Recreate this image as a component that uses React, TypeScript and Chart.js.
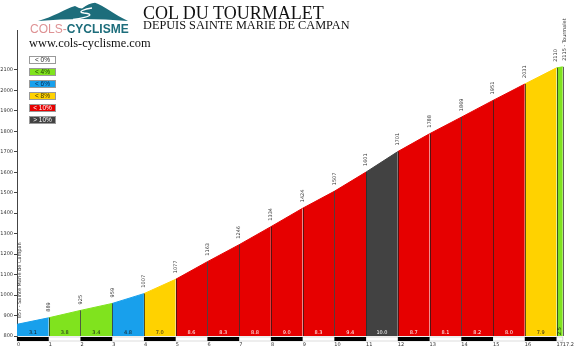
import React, { useEffect, useRef } from "react";
import { Chart, registerables } from "chart.js";
Chart.register(...registerables);

const kmPoints = [0, 1, 2, 3, 4, 5, 6, 7, 8, 9, 10, 11, 12, 13, 14, 15, 16, 17, 17.2];
const altitudes = [857, 889, 925, 959, 1007, 1077, 1163, 1246, 1334, 1424, 1507, 1601, 1701, 1788, 1869, 1951, 2031, 2110, 2115];
const altitudeLabels = ["857 - Sainte Marie de Campan", "889", "925", "959", "1007", "1077", "1163", "1246", "1334", "1424", "1507", "1601", "1701", "1788", "1869", "1951", "2031", "2110", "2115 - Tourmalet"];
const gradients = ["3.1", "3.8", "3.4", "4.8", "7.0", "8.6", "8.3", "8.8", "9.0", "8.3", "9.4", "10.0", "8.7", "8.1", "8.2", "8.0", "7.9", "2.5"];
const segmentClasses = ["< 6%", "< 4%", "< 4%", "< 6%", "< 8%", "< 10%", "< 10%", "< 10%", "< 10%", "< 10%", "< 10%", "> 10%", "< 10%", "< 10%", "< 10%", "< 10%", "< 8%", "< 4%"];
const legendLabels = ["< 0%", "< 4%", "< 6%", "< 8%", "< 10%", "> 10%"];
const legendColors = ["#ffffff", "#80e31e", "#18a0ec", "#ffd200", "#e60000", "#424242"];
const legendTextColors = ["#222", "#1a3a00", "#0a2a50", "#3a3000", "#ffffff", "#ffffff"];
const yTicks = [800, 900, 1000, 1100, 1200, 1300, 1400, 1500, 1600, 1700, 1800, 1900, 2000, 2100];
const xTicks = kmPoints;

const colorOf = (cls: string) => legendColors[legendLabels.indexOf(cls)];
const textColorOf = (cls: string) => (cls === "< 10%" || cls === "> 10%" ? "#ffffff" : "#1a1a1a");

const decorPlugin = {
  id: "profileDecor",
  afterDatasetsDraw(chart: any) {
    const { ctx, scales, chartArea } = chart;
    const x = scales.x;
    const y = scales.y;
    const base = y.getPixelForValue(800);
    ctx.save();
    ctx.strokeStyle = "#1a1a1a";
    ctx.lineWidth = 0.7;
    for (let i = 1; i < kmPoints.length; i++) {
      const px = Math.round(x.getPixelForValue(kmPoints[i])) + 0.5;
      ctx.beginPath();
      ctx.moveTo(px, base);
      ctx.lineTo(px, y.getPixelForValue(altitudes[i]));
      ctx.stroke();
    }
    ctx.font = "5px 'DejaVu Sans'";
    ctx.textAlign = "center";
    ctx.textBaseline = "middle";
    for (let i = 0; i < gradients.length; i++) {
      const x0 = x.getPixelForValue(kmPoints[i]);
      const x1 = x.getPixelForValue(kmPoints[i + 1]);
      ctx.fillStyle = textColorOf(segmentClasses[i]);
      const cx = (x0 + x1) / 2;
      if (x1 - x0 < 12) {
        ctx.save();
        ctx.translate(cx, base - 5);
        ctx.rotate(-Math.PI / 2);
        ctx.fillText(gradients[i], 0, 0);
        ctx.restore();
      } else {
        ctx.fillText(gradients[i], cx, base - 3.5);
      }
    }
    ctx.fillStyle = "#333";
    ctx.textAlign = "left";
    for (let i = 0; i < altitudes.length; i++) {
      let px = x.getPixelForValue(kmPoints[i]);
      if (i === 0) px += 3;
      if (i === altitudes.length - 1) px += 2;
      if (i === altitudes.length - 2) px -= 1;
      const py = y.getPixelForValue(altitudes[i]) - 6;
      ctx.save();
      ctx.translate(px, py);
      ctx.rotate(-Math.PI / 2);
      ctx.fillText(altitudeLabels[i], 0, 0);
      ctx.restore();
    }
    const top = chartArea.bottom + 1;
    const h = 4;
    ctx.fillStyle = "#ffffff";
    ctx.fillRect(chartArea.left, top, chartArea.right - chartArea.left, h);
    ctx.strokeStyle = "#bbbbbb";
    ctx.lineWidth = 0.5;
    ctx.strokeRect(chartArea.left, top, chartArea.right - chartArea.left, h);
    ctx.fillStyle = "#000000";
    for (let i = 0; i < kmPoints.length - 1; i++) {
      if (i % 2 === 0) {
        const x0 = x.getPixelForValue(kmPoints[i]);
        const x1 = x.getPixelForValue(kmPoints[i + 1]);
        ctx.fillRect(x0, top, x1 - x0, h);
      }
    }
    ctx.restore();
  },
};

export default function App() {
  const ref = useRef<HTMLCanvasElement>(null);
  useEffect(() => {
    document.body.style.margin = "0";
    const datasets = segmentClasses.map((cls, i) => ({
      label: gradients[i],
      data: [
        { x: kmPoints[i], y: altitudes[i] },
        { x: kmPoints[i + 1], y: altitudes[i + 1] },
      ],
      backgroundColor: colorOf(cls),
      borderColor: colorOf(cls),
      borderWidth: 1,
      pointRadius: 0,
      fill: "start",
      tension: 0,
    }));
    const chart = new Chart(ref.current as HTMLCanvasElement, {
      type: "line",
      data: { datasets },
      options: {
        animation: false,
        responsive: false,
        devicePixelRatio: 1,
        layout: { padding: { top: 30, right: 17, left: 0, bottom: 0 } },
        plugins: { legend: { display: false }, tooltip: { enabled: false } },
        scales: {
          x: {
            type: "linear",
            min: 0,
            max: 17.2,
            afterBuildTicks: (s: any) => {
              s.ticks = xTicks.map((v) => ({ value: v }));
            },
            afterFit: (s: any) => {
              s.height = 15;
            },
            ticks: {
              autoSkip: false,
              maxRotation: 0,
              minRotation: 0,
              align: "start",
              padding: 6,
              color: "#333",
              font: { size: 5, family: "'DejaVu Sans'" },
              callback: (v: any) => String(v),
            },
            grid: { display: false, drawTicks: false },
            border: { display: false },
          },
          y: {
            type: "linear",
            min: 800,
            max: 2295,
            afterBuildTicks: (s: any) => {
              s.ticks = yTicks.map((v) => ({ value: v }));
            },
            afterFit: (s: any) => {
              s.width = 17;
            },
            ticks: {
              padding: 1,
              color: "#333",
              font: { size: 5, family: "'DejaVu Sans'" },
              callback: (v: any) => String(v),
            },
            grid: { drawOnChartArea: false, drawTicks: true, tickLength: 3, color: "#444" },
            border: { display: true, color: "#444", width: 1 },
          },
        },
      },
      plugins: [decorPlugin],
    } as any);
    return () => chart.destroy();
  }, []);

  return (
    <div style={{ position: "relative", width: 580, height: 351, overflow: "hidden", background: "#fff" }}>
      <canvas ref={ref} width={580} height={351} style={{ position: "absolute", left: 0, top: 0, width: 580, height: 351 }} />
      <svg width={95} height={22} style={{ position: "absolute", left: 35, top: 1 }}>
        <path d="M3 20 C 18 16, 30 8, 40 5 L 44 7 L 47 7.5 C 52 4, 56 1.8, 60 1.8 C 68 4, 80 14, 93 20 Q 48 16 3 20 Z" fill="#1d6d7b" />
        <path d="M 38 18.5 C 55 16, 60 13, 49 12 C 41 11, 50 8, 57 7" stroke="#ffffff" strokeWidth={1.3} fill="none" />
      </svg>
      <div style={{ position: "absolute", left: 30, top: 23, fontFamily: "'Liberation Sans'", fontSize: 12, lineHeight: "12px", whiteSpace: "nowrap" }}>
        <span style={{ color: "#de9294" }}>COLS-</span>
        <span style={{ color: "#1d6d7b", fontWeight: "bold" }}>CYCLISME</span>
      </div>
      <div style={{ position: "absolute", left: 29, top: 36.6, fontFamily: "'Liberation Serif'", fontSize: 12.4, lineHeight: "12.4px", color: "#111", whiteSpace: "nowrap" }}>
        www.cols-cyclisme.com
      </div>
      <div style={{ position: "absolute", left: 143, top: 3.5, fontFamily: "'Liberation Serif'", fontSize: 18, lineHeight: "18px", color: "#111", whiteSpace: "nowrap" }}>
        COL DU TOURMALET
      </div>
      <div style={{ position: "absolute", left: 143, top: 18.7, fontFamily: "'Liberation Serif'", fontSize: 12.3, lineHeight: "12.3px", color: "#111", whiteSpace: "nowrap" }}>
        DEPUIS SAINTE MARIE DE CAMPAN
      </div>
      {legendLabels.map((lab, i) => (
        <div
          key={lab}
          style={{
            position: "absolute",
            left: 29,
            top: 56 + i * 11.9,
            width: 27,
            height: 8,
            boxSizing: "border-box",
            border: "1px solid #999",
            background: legendColors[i],
            color: legendTextColors[i],
            fontFamily: "'Liberation Sans'",
            fontSize: 6.5,
            lineHeight: "6px",
            textAlign: "center",
            whiteSpace: "nowrap",
          }}
        >
          {lab}
        </div>
      ))}
    </div>
  );
}
